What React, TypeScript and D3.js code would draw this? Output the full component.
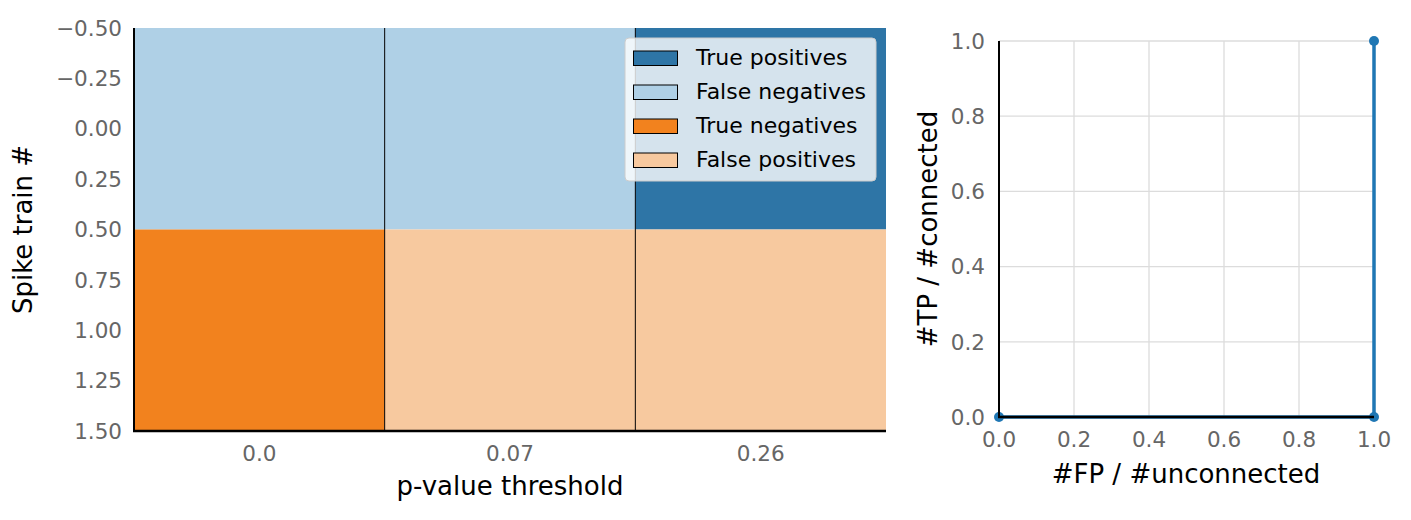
import React from "react";
import * as d3 from "d3";

const thresholds = ["0.0", "0.07", "0.26"];
const spikeTrains = [0, 1];
// outcome per [spike train][threshold]
const outcomes = [
  ["FN", "FN", "TP"],
  ["TN", "FP", "FP"],
];
const legendKeys = ["TP", "FN", "TN", "FP"];
const legendLabels = ["True positives", "False negatives", "True negatives", "False positives"];
const colors: Record<string, string> = {
  TP: "#2e75a6",
  FN: "#afd0e6",
  TN: "#f2821e",
  FP: "#f7c99f",
};
const yTicksLeft = [-0.5, -0.25, 0, 0.25, 0.5, 0.75, 1.0, 1.25, 1.5];
const rocX = [0, 1, 1];
const rocY = [0, 0, 1];
const rocTicks = [0, 0.2, 0.4, 0.6, 0.8, 1.0];

const FONT = "DejaVu Sans, sans-serif";
const TICK = "#666666";
const TICK_FS = 21.5;
const LABEL_FS = 26;
const LEG_FS = 22;

export default function App() {
  const L = { x0: 134, x1: 886, y0: 28, y1: 431 };
  const xb = d3.scaleBand<string>().domain(thresholds).range([L.x0, L.x1]);
  const yl = d3.scaleLinear().domain([-0.5, 1.5]).range([L.y0, L.y1]);

  const R = { x0: 999, x1: 1374, y0: 41, y1: 417 };
  const xr = d3.scaleLinear().domain([0, 1]).range([R.x0, R.x1]);
  const yr = d3.scaleLinear().domain([0, 1]).range([R.y1, R.y0]);
  const line = d3
    .line<number>()
    .x((d, i) => xr(rocX[i]))
    .y((d, i) => yr(rocY[i]));

  const cells: { k: string; t: string; s: number }[] = [];
  spikeTrains.forEach((s) =>
    thresholds.forEach((t, j) => cells.push({ k: outcomes[s][j], t, s }))
  );

  const lg = { x: 625, y: 38, w: 251, h: 143 };

  return (
    <svg width={1411} height={520} style={{ position: "absolute", left: 0, top: 0 }} fontFamily={FONT}>
      <rect width={1411} height={520} fill="#fff" />
      {/* Left heatmap */}
      {cells.map((c, i) => (
        <rect
          key={i}
          x={xb(c.t)}
          y={yl(c.s - 0.5)}
          width={xb.bandwidth()}
          height={yl(c.s + 0.5) - yl(c.s - 0.5)}
          fill={colors[c.k]}
        />
      ))}
      {thresholds.slice(1).map((t) => (
        <line key={t} x1={xb(t)} x2={xb(t)} y1={L.y0} y2={L.y1} stroke="#000" strokeWidth={1} />
      ))}
      <line x1={L.x0} x2={L.x0} y1={L.y0} y2={L.y1 + 1} stroke="#000" strokeWidth={2} />
      <line x1={L.x0 - 1} x2={L.x1} y1={L.y1} y2={L.y1} stroke="#000" strokeWidth={2.5} />
      {yTicksLeft.map((v) => (
        <text key={v} x={122} y={yl(v)} dy="0.36em" textAnchor="end" fontSize={TICK_FS} fill={TICK}>
          {d3.format(".2f")(v).replace("-", "\u2212")}
        </text>
      ))}
      {thresholds.map((t) => (
        <text key={t} x={xb(t)! + xb.bandwidth() / 2} y={453} dy="0.36em" textAnchor="middle" fontSize={TICK_FS} fill={TICK}>
          {t}
        </text>
      ))}
      <text x={510} y={495} textAnchor="middle" fontSize={LABEL_FS} fill="#000">p-value threshold</text>
      <text transform={`translate(32,${(L.y0 + L.y1) / 2}) rotate(-90)`} textAnchor="middle" fontSize={LABEL_FS} fill="#000">
        Spike train #
      </text>
      {/* Legend */}
      <rect x={lg.x} y={lg.y} width={lg.w} height={lg.h} rx={4} fill="#fff" fillOpacity={0.8} stroke="#cccccc" strokeWidth={1} />
      {legendKeys.map((k, i) => (
        <g key={k}>
          <rect x={633.5} y={51 + i * 34} width={44} height={14.5} fill={colors[k]} stroke="#000" strokeWidth={1} />
          <text x={696} y={65 + i * 34} fontSize={LEG_FS} fill="#000">{legendLabels[i]}</text>
        </g>
      ))}

      {/* Right ROC */}
      {rocTicks.map((v) => (
        <g key={v}>
          <line x1={xr(v)} x2={xr(v)} y1={R.y0} y2={R.y1} stroke="#dcdcdc" strokeWidth={1.3} />
          <line x1={R.x0} x2={R.x1} y1={yr(v)} y2={yr(v)} stroke="#dcdcdc" strokeWidth={1.3} />
        </g>
      ))}
      <path d={line(rocX) || ""} fill="none" stroke="#1f77b4" strokeWidth={3.5} />
      {rocX.map((x, i) => (
        <circle key={i} cx={xr(x)} cy={yr(rocY[i])} r={5} fill="#1f77b4" />
      ))}
      <line x1={R.x0} x2={R.x0} y1={R.y0} y2={R.y1 + 1} stroke="#000" strokeWidth={2} />
      <line x1={R.x0 - 1} x2={R.x1} y1={R.y1} y2={R.y1} stroke="#000" strokeWidth={2.5} />
      {rocTicks.map((v) => (
        <g key={v}>
          <text x={985} y={yr(v)} dy="0.36em" textAnchor="end" fontSize={TICK_FS} fill={TICK}>{v.toFixed(1)}</text>
          <text x={xr(v)} y={439} dy="0.36em" textAnchor="middle" fontSize={TICK_FS} fill={TICK}>{v.toFixed(1)}</text>
        </g>
      ))}
      <text x={1186} y={483} textAnchor="middle" fontSize={LABEL_FS} fill="#000">#FP / #unconnected</text>
      <text transform={`translate(937,${(R.y0 + R.y1) / 2}) rotate(-90)`} textAnchor="middle" fontSize={LABEL_FS} fill="#000">
        #TP / #connected
      </text>
    </svg>
  );
}
